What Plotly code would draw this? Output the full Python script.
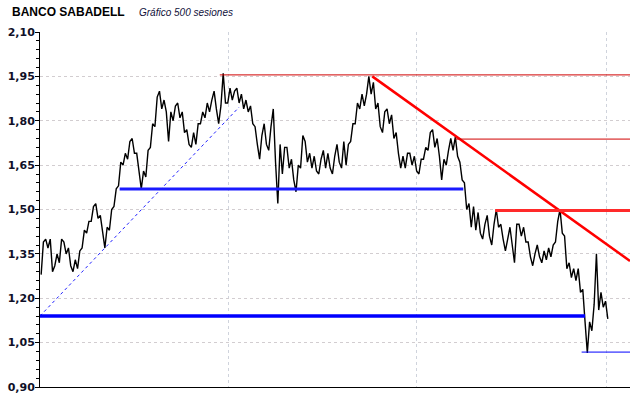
import plotly.graph_objects as go

# ---- data ----
title_main = "BANCO SABADELL"
title_sub = "Gráfico 500 sesiones"

sessions_per_bar = 4  # each low/high pair summarises 4 sessions

lows = [1.28, 1.37, 1.29, 1.31, 1.32, 1.35, 1.31, 1.29, 1.30, 1.37,
        1.42, 1.46, 1.47, 1.42, 1.37, 1.43, 1.51, 1.58, 1.65, 1.67,
        1.69, 1.63, 1.57, 1.61, 1.71, 1.78, 1.84, 1.83, 1.73, 1.80,
        1.81, 1.76, 1.72, 1.71, 1.72, 1.79, 1.81, 1.83, 1.84, 1.79,
        1.86, 1.86, 1.87, 1.86, 1.84, 1.83, 1.79, 1.72, 1.67, 1.72,
        1.70, 1.66, 1.52, 1.62, 1.64, 1.60, 1.56, 1.64, 1.66, 1.64,
        1.63, 1.62, 1.64, 1.64, 1.62, 1.66, 1.64, 1.65, 1.73, 1.79,
        1.84, 1.85, 1.89, 1.84, 1.78, 1.76, 1.79, 1.74, 1.69, 1.64,
        1.64, 1.65, 1.63, 1.62, 1.67, 1.70, 1.71, 1.68, 1.60, 1.65,
        1.70, 1.68, 1.60, 1.50, 1.44, 1.43, 1.42, 1.40, 1.41, 1.38,
        1.44, 1.40, 1.36, 1.38, 1.32, 1.41, 1.39, 1.34, 1.31, 1.34,
        1.32, 1.33, 1.34, 1.39, 1.42, 1.30, 1.27, 1.26, 1.22, 1.12,
        1.015, 1.09, 1.16, 1.17, 1.13]
highs = [1.39, 1.40, 1.40, 1.35, 1.40, 1.39, 1.37, 1.33, 1.36, 1.43,
         1.46, 1.51, 1.52, 1.48, 1.44, 1.50, 1.57, 1.66, 1.69, 1.73,
         1.74, 1.69, 1.63, 1.70, 1.79, 1.88, 1.90, 1.87, 1.83, 1.85,
         1.86, 1.83, 1.77, 1.76, 1.79, 1.83, 1.86, 1.87, 1.90, 1.85,
         1.96, 1.91, 1.90, 1.91, 1.89, 1.87, 1.85, 1.78, 1.75, 1.79,
         1.78, 1.84, 1.72, 1.71, 1.71, 1.67, 1.65, 1.75, 1.73, 1.69,
         1.68, 1.67, 1.70, 1.69, 1.68, 1.72, 1.73, 1.72, 1.79, 1.86,
         1.89, 1.89, 1.95, 1.93, 1.86, 1.83, 1.84, 1.82, 1.76, 1.68,
         1.69, 1.69, 1.68, 1.67, 1.71, 1.76, 1.77, 1.74, 1.67, 1.70,
         1.74, 1.745, 1.66, 1.59, 1.52, 1.51, 1.49, 1.45, 1.48, 1.45,
         1.50, 1.45, 1.40, 1.44, 1.45, 1.45, 1.44, 1.39, 1.35, 1.38,
         1.36, 1.37, 1.38, 1.46, 1.50, 1.41, 1.32, 1.30, 1.30, 1.23,
         1.12, 1.18, 1.35, 1.22, 1.19]

# trend / support / resistance lines: (session, price) endpoints
support_diag_x = [0, 175]
support_diag_y = [1.14, 1.846]
support_mid_x = [70, 372]
support_mid_y = [1.569, 1.569]
support_low_x = [0, 479]
support_low_y = [1.14, 1.14]
support_min_x = [476, 518.5]
support_min_y = [1.018, 1.018]
resist_top_x = [158, 518.5]
resist_top_y = [1.955, 1.955]
resist_diag_x = [292, 518.5]
resist_diag_y = [1.95, 1.326]
resist_mid_x = [365, 518.5]
resist_mid_y = [1.738, 1.738]
resist_150_x = [400, 518.5]
resist_150_y = [1.497, 1.497]

vgrid_sessions = [166, 331, 498]
y_min, y_max, y_step = 0.90, 2.10, 0.15
x_max = 518.5

# ---- build price path (zig-zag through each bar's low/high) ----
n = len(lows)
px, py = [], []
for i in range(n):
    lo, hi = lows[i], highs[i]
    mid = (lo + hi) / 2
    if i + 1 < n:
        up = (lows[i + 1] + highs[i + 1]) / 2 >= mid
    else:
        up = mid >= (lows[i - 1] + highs[i - 1]) / 2
    seq = (lo, hi) if up else (hi, lo)
    px += [sessions_per_bar * i + 1, sessions_per_bar * i + 3]
    py += list(seq)

fig = go.Figure()

fig.add_trace(go.Scatter(x=px, y=py, mode="lines",
                         line=dict(color="black", width=1.4), hoverinfo="skip"))

def seg(x, y, color, width, dash="solid"):
    fig.add_trace(go.Scatter(x=x, y=y, mode="lines",
                             line=dict(color=color, width=width, dash=dash),
                             hoverinfo="skip"))

seg(support_diag_x, support_diag_y, "#2020ff", 1, "dot")
seg(support_mid_x, support_mid_y, "#1a1aff", 3)
seg(support_low_x, support_low_y, "#0000ff", 3.5)
seg(support_min_x, support_min_y, "#0000ff", 1)
seg(resist_top_x, resist_top_y, "#d00000", 1)
seg(resist_diag_x, resist_diag_y, "#ff0000", 2.5)
seg(resist_mid_x, resist_mid_y, "#d00000", 1)
seg(resist_150_x, resist_150_y, "#ff2a2a", 3)

fig.update_layout(
    width=640, height=398,
    margin=dict(l=40, r=10, t=32, b=11),
    paper_bgcolor="white", plot_bgcolor="white",
    showlegend=False,
    separators=",.",
    font=dict(family="DejaVu Sans", color="black"),
)

fig.update_xaxes(
    range=[0, x_max], showticklabels=False, tickmode="array",
    tickvals=vgrid_sessions, ticks="", showgrid=True,
    gridcolor="#cfd3dc", griddash="dot", gridwidth=1,
    showline=True, linecolor="black", linewidth=1,
    zeroline=False, fixedrange=True,
)
fig.update_yaxes(
    range=[y_min, y_max], tickmode="linear", tick0=y_min, dtick=y_step,
    tickformat=".2f",
    tickfont=dict(family="DejaVu Sans", size=11, color="#101028", weight="bold"),
    ticks="outside", ticklen=4, tickcolor="black",
    ticklabelstandoff=-2,
    minor=dict(dtick=0.03, tick0=y_min, ticks="outside", ticklen=3, tickcolor="black", showgrid=False),
    showgrid=True, gridcolor="#d2cdd0", griddash="dot", gridwidth=1,
    showline=True, linecolor="black", linewidth=1,
    zeroline=False, automargin=False, fixedrange=True,
)

fig.add_annotation(text="<b>" + title_main + "</b>", xref="paper", yref="paper",
                   x=(10 - 40) / 590, y=1.0563, xanchor="left", yanchor="middle", showarrow=False,
                   font=dict(family="Liberation Sans", size=12, color="black"))
fig.add_annotation(text="<i>" + title_sub + "</i>", xref="paper", yref="paper",
                   x=(137 - 40) / 590, y=1.0563, xanchor="left", yanchor="middle", showarrow=False,
                   font=dict(family="Liberation Sans", size=10, color="#10103a"))

fig.write_html("out.html",
               config={"displayModeBar": False, "staticPlot": True},
               post_script="document.body.style.margin='0';document.body.style.overflow='hidden';")
